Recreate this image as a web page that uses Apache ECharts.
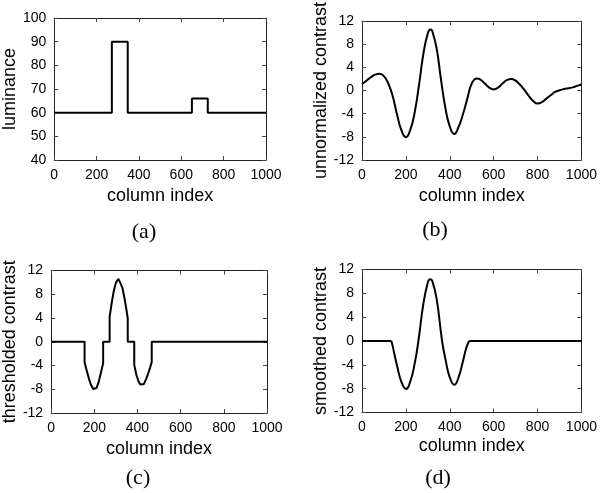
<!DOCTYPE html>
<html>
<head>
<meta charset="utf-8">
<script src="https://cdn.jsdelivr.net/npm/echarts@6/dist/echarts.min.js"></script>
<style>
html,body{margin:0;padding:0;background:#fff;}
#chart{width:600px;height:493px;}
</style>
</head>
<body>
<div id="chart"></div>
<script>
// ---------- data ----------
// (a) luminance profile
const lumX = [0, 272, 272, 347, 347, 650, 650, 725, 725, 1000];
const lumY = [60, 60, 90, 90, 60, 60, 66, 66, 60, 60];

// (b) unnormalized contrast
const rawX = [0, 20, 40, 60, 80, 100, 120, 140, 160, 180, 200, 220, 240, 260, 280, 300, 312, 320, 340, 360, 380, 400, 420, 440, 460, 480, 500, 523, 540, 560, 580, 600, 620, 640, 660, 680, 700, 720, 740, 760, 780, 800, 820, 840, 860, 880, 900, 920, 940, 960, 980, 1000];
const rawY = [1.1, 1.7, 2.3, 2.75, 2.9, 2.5, 1.2, -1.0, -4.2, -6.9, -8.05, -6.8, -3.8, 1.0, 6.4, 9.9, 10.55, 10.3, 7.3, 1.9, -3.0, -6.2, -7.5, -6.3, -4.1, -1.4, 1.2, 2.1, 1.9, 1.2, 0.5, 0.2, 0.5, 1.2, 1.8, 2.0, 1.7, 1.0, 0.1, -0.9, -1.8, -2.25, -2.0, -1.4, -0.8, -0.25, 0.05, 0.25, 0.4, 0.55, 0.8, 1.05];

// (c) thresholded contrast
const thrX = [0, 155, 155, 165, 175, 185, 195, 203, 210, 220, 230, 241, 241, 271, 271, 280, 290, 300, 312, 320, 330, 340, 348, 355, 355, 385, 385, 395, 405, 413, 421, 430, 440, 450, 458, 466, 466, 1000];
const thrY = [0, 0, -3.5, -4.9, -6.2, -7.3, -7.95, -8.1, -7.8, -6.8, -5.3, -3.6, 0, 0, 4.2, 6.4, 8.5, 9.95, 10.6, 10.3, 9.1, 7.3, 5.6, 3.9, 0, 0, -3.9, -5.6, -6.7, -7.2, -7.4, -7.1, -6.3, -5.3, -4.4, -3.4, 0, 0];

// (d) smoothed contrast: flat parts and the smooth lobe
const flatX = [0, 134, null, 488, 1000];
const flatY = [0, 0, null, 0, 0];
const smX = [134, 140, 160, 180, 201, 220, 240, 257, 280, 300, 310, 320, 340, 365, 380, 400, 421, 440, 460, 475, 488];
const smY = [0, -0.9, -4.2, -6.9, -8.05, -6.8, -3.8, 0, 6.3, 9.8, 10.35, 10.1, 7.1, 0, -3.0, -6.1, -7.35, -6.1, -3.4, -1.2, 0];

// ---------- helpers ----------
function pairs(xs, ys) {
  return xs.map((x, i) => (x === null ? null : [x, ys[i]]));
}

const FONT = 'Liberation Sans, Arial, Helvetica, sans-serif';
const grids = [
  { left: 54, top: 18, width: 212, height: 142 },
  { left: 362, top: 18.5, width: 221, height: 141.5 },
  { left: 46, top: 270.5, width: 221, height: 142.5 },
  { left: 362, top: 269.5, width: 221, height: 143 }
];
const yNames = ['luminance', 'unnormalized contrast', 'thresholded contrast', 'smoothed contrast'];
const yRanges = [[40, 100, 10], [-12, 12, 4], [-12, 12, 4], [-12, 12, 4]];
const yNameGap = [28, 27, 27, 27];
const xNameGap = [27, 27, 27, 25];

const lineColor = '#222';
const plain = v => String(v);
const xAxes = [], yAxes = [];
grids.forEach((g, i) => {
  const base = {
    gridIndex: i,
    type: 'value',
    axisLine: { show: true, onZero: false, lineStyle: { color: lineColor, width: 1 } },
    axisTick: { show: true, inside: true, length: 4, lineStyle: { color: '#444', width: 1 } },
    splitLine: { show: false }
  };
  xAxes.push(Object.assign({}, base, {
    position: 'bottom', min: 0, max: 1000, interval: 200,
    name: 'column index', nameLocation: 'middle', nameGap: xNameGap[i],
    nameTextStyle: { fontFamily: FONT, fontSize: 18, color: '#000' },
    axisLabel: { show: true, margin: 8, fontFamily: FONT, fontSize: 14, color: '#000', showMinLabel: true, showMaxLabel: true, formatter: plain }
  }));
  xAxes.push(Object.assign({}, base, {
    position: 'top', min: 0, max: 1000, interval: 200,
    axisLabel: { show: false }
  }));
  const r = yRanges[i];
  yAxes.push(Object.assign({}, base, {
    position: 'left', min: r[0], max: r[1], interval: r[2],
    name: yNames[i], nameLocation: 'middle', nameGap: yNameGap[i],
    nameTextStyle: { fontFamily: FONT, fontSize: 18, color: '#000' },
    axisLabel: { show: true, margin: 8, fontFamily: FONT, fontSize: 14, color: '#000', showMinLabel: true, showMaxLabel: true, formatter: plain }
  }));
  yAxes.push(Object.assign({}, base, {
    position: 'right', min: r[0], max: r[1], interval: r[2],
    axisLabel: { show: false }
  }));
});

const lineStyle = { color: '#000', width: 2 };
function series(i, data, smooth) {
  return {
    type: 'line', xAxisIndex: 2 * i, yAxisIndex: 2 * i,
    data: data, smooth: smooth, showSymbol: false, symbol: 'none',
    connectNulls: false, lineStyle: lineStyle, animation: false,
    clip: false
  };
}

const captions = [
  { t: '(a)', x: 144, y: 232 },
  { t: '(b)', x: 435, y: 230 },
  { t: '(c)', x: 138, y: 478 },
  { t: '(d)', x: 438, y: 478 }
];

const chart = echarts.init(document.getElementById('chart'), null, { renderer: 'canvas' });
chart.setOption({
  backgroundColor: '#fff',
  animation: false,
  grid: grids,
  xAxis: xAxes,
  yAxis: yAxes,
  series: [
    series(0, pairs(lumX, lumY), false),
    series(1, pairs(rawX, rawY), 0.5),
    series(2, pairs(thrX, thrY), false),
    series(3, pairs(flatX, flatY), false),
    series(3, pairs(smX, smY), 0.5)
  ],
  graphic: captions.map(c => ({
    type: 'text', x: c.x, y: c.y,
    style: { text: c.t, fill: '#000', font: '22px "Liberation Serif", "Times New Roman", serif', textAlign: 'center', textVerticalAlign: 'middle' }
  }))
});
</script>
</body>
</html>
